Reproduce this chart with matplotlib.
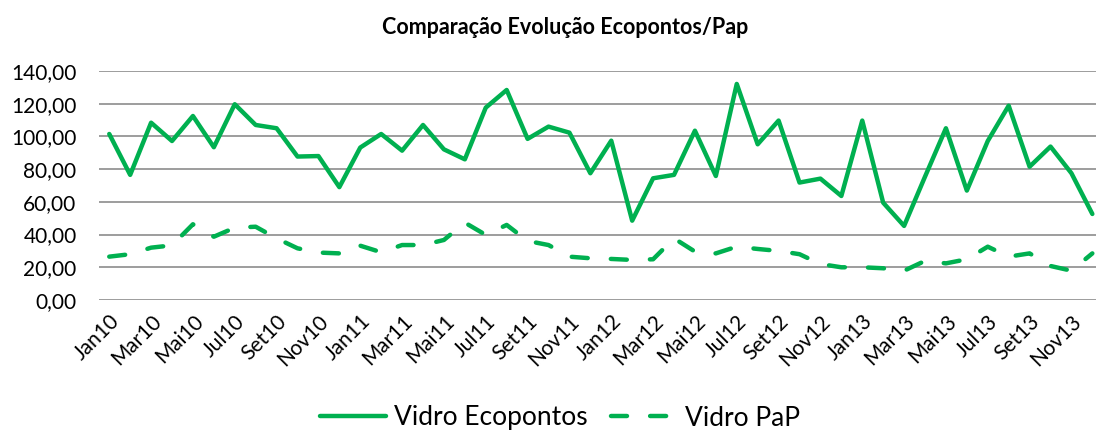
import numpy as np
import matplotlib.pyplot as plt

plt.rcParams['font.family'] = ['Lato', 'DejaVu Sans']

meses = ['Jan', 'Fev', 'Mar', 'Abr', 'Mai', 'Jun', 'Jul', 'Ago', 'Set', 'Out', 'Nov', 'Dez']
anos = ['10', '11', '12', '13']
categorias = [m + a for a in anos for m in meses]

ecopontos = [101.5, 76.5, 108.4, 97.2, 112.5, 93.4, 119.7, 107.0, 105.0, 87.7, 88.0, 69.0,
             93.2, 101.5, 91.3, 107.0, 92.1, 86.0, 117.6, 128.4, 98.5, 106.0, 102.3, 77.5,
             97.4, 48.5, 74.4, 76.5, 103.5, 75.8, 132.1, 95.2, 109.7, 71.8, 74.2, 63.6,
             109.7, 59.5, 45.3, 75.4, 105.0, 66.9, 97.2, 118.8, 81.5, 93.8, 77.5, 52.6]
pap = [26.5, 28.0, 32.0, 33.4, 46.3, 38.7, 44.2, 44.8, 37.7, 31.6, 29.0, 28.5,
       33.2, 29.2, 33.6, 33.6, 36.7, 47.3, 39.8, 45.9, 36.1, 33.6, 26.5, 25.5,
       25.1, 24.5, 24.9, 37.7, 29.6, 28.5, 32.6, 31.2, 30.0, 28.0, 22.0, 20.0,
       20.0, 19.4, 17.9, 23.9, 22.4, 24.9, 32.6, 26.5, 28.5, 20.8, 17.9, 28.5]

verde = '#00B050'
x = np.arange(len(categorias))

fig = plt.figure(figsize=(10.96, 4.32), dpi=100)
ax = fig.add_axes([98.8 / 1096, 132 / 432, 1004 / 1096, 229 / 432])

ax.plot(x, ecopontos, color=verde, lw=3.2, solid_capstyle='round', label='Vidro Ecopontos')
ax.plot(x, pap, color=verde, lw=3.2, dashes=(3.6, 5.2), dash_capstyle='round', label='Vidro PaP')

ax.set_xlim(-0.5, len(categorias) - 0.5)
ax.set_ylim(0, 140)
ax.set_yticks(np.arange(0, 141, 20))
ax.set_yticklabels([f'{v:.2f}'.replace('.', ',') for v in np.arange(0, 141, 20)], fontsize=15)
ax.set_xticks(x[::2])
ax.set_xticklabels(categorias[::2], rotation=45, ha='right', rotation_mode='anchor', fontsize=15)
ax.tick_params(axis='y', length=0, pad=16)
ax.tick_params(axis='x', length=0, pad=8)
ax.grid(axis='y', color='#8c8c8c', lw=1.2)
ax.set_axisbelow(True)
for s in ax.spines.values():
    s.set_visible(False)

fig.text(565 / 1096, 1 - 27 / 432, 'Comparação Evolução Ecopontos/Pap', ha='center', va='center',
         fontsize=15.5, fontweight='bold')
fig.legend(loc='center', bbox_to_anchor=(560 / 1096, 1 - 418 / 432), ncol=2, frameon=False,
           fontsize=19, handlelength=2.5, handletextpad=0.3, columnspacing=0.9,
           borderaxespad=0, borderpad=0)

fig.savefig('out.png', dpi=100)
